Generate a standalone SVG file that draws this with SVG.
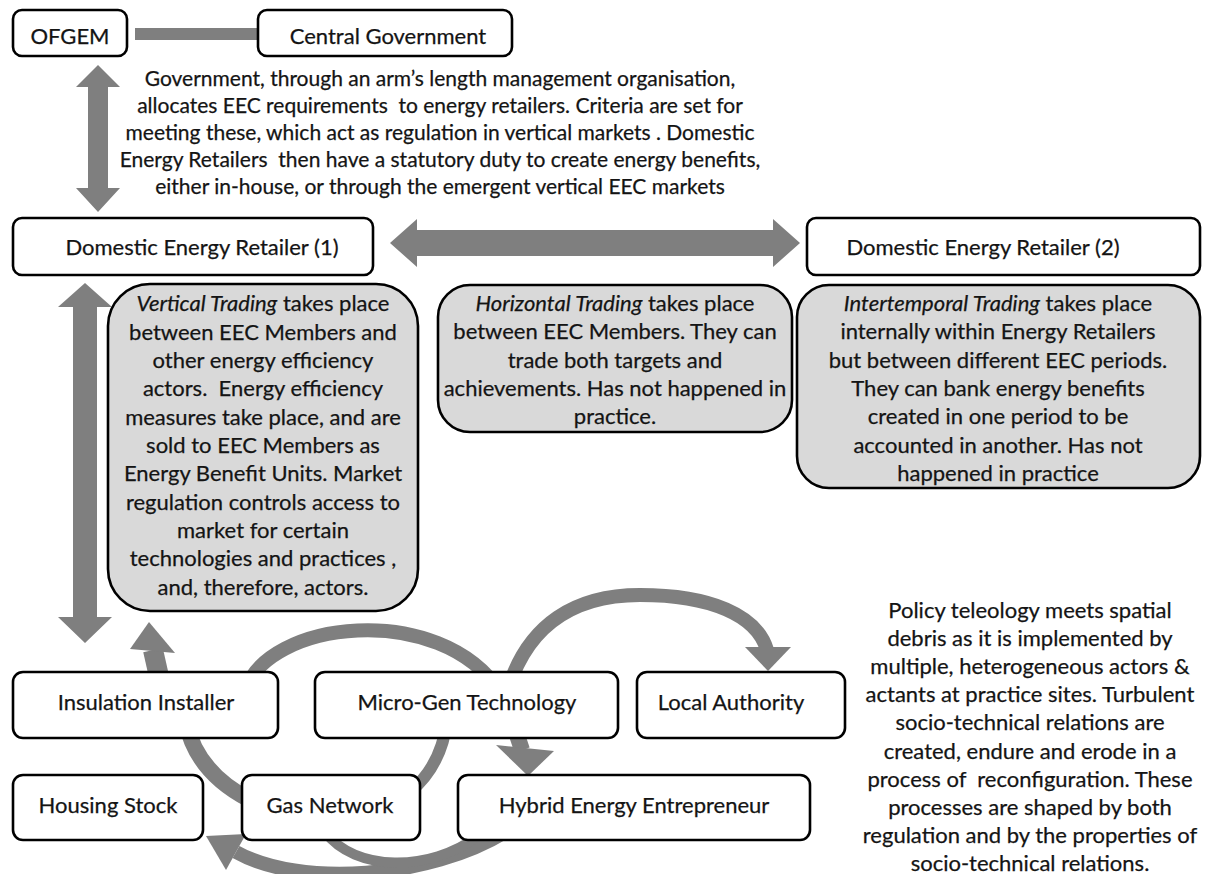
<svg xmlns="http://www.w3.org/2000/svg" width="1215" height="874" viewBox="0 0 1215 874">
<style>
.box{fill:#fff;stroke:#000;stroke-width:2.6}
.gbox{fill:#d9d9d9;stroke:#000;stroke-width:2.6}
.t{font-family:Lato,"Open Sans","Liberation Sans",sans-serif;font-size:22px;fill:#141414;stroke:#141414;stroke-width:0.25;text-anchor:middle}
.s{font-size:21px}
.i{font-style:italic}
.arr{fill:#7f7f7f}
.cv{fill:none;stroke:#7f7f7f}
</style>
<rect width="1215" height="874" fill="#fff"/>
<g id="connectors">
  <rect class="arr" x="135" y="28" width="125" height="12"/>
  <polygon class="arr" points="98,65 120,87 108,87 108,188 120,188 98,212 76,188 88,188 88,87 76,87"/>
  <polygon class="arr" points="390,243 417,219 417,230 773,230 773,219 800,243 773,267 773,256 417,256 417,267"/>
  <polygon class="arr" points="85,283 112,307 97,307 97,617 112,617 85,643 58,617 73,617 73,307 58,307"/>
  <path class="cv" stroke-width="16" d="M 186 722 Q 196 772 250 800"/>
  <path class="cv" stroke-width="20" d="M 162 690 L 153 650"/>
  <polygon class="arr" points="149,622 175,653 130,649"/>
  <path class="cv" stroke-width="14" d="M 245 692 C 265 620 440 600 500 692"/>
  <path class="cv" stroke-width="12" d="M 447 720 Q 442 765 410 792"/>
  <path class="cv" stroke-width="14" d="M 505 700 C 525 620 580 595 640 595 C 710 595 757 615 767 650"/>
  <polygon class="arr" points="745,647 791,647 768,671"/>
  <path class="cv" stroke-width="16" d="M 512 720 L 522 750"/>
  <polygon class="arr" points="496,745 554,751 528,776"/>
  <path class="cv" stroke-width="14" d="M 505 832 C 430 878 300 888 236 852"/>
  <polygon class="arr" points="206,836 246,834 226,870"/>
  <path class="cv" stroke-width="10" d="M 325 832 C 355 872 430 872 478 836"/>
</g>
<g id="ofgem"><rect class="box" x="13" y="10" width="114" height="46" rx="9"/><text class="t" x="70" y="44">OFGEM</text></g>
<g id="central-government"><rect class="box" x="258" y="10" width="254" height="46" rx="9"/><text class="t" x="388" y="44">Central Government</text></g>
<g id="note-top">
  <text class="t s" x="440" y="86">Government, through an arm’s length management organisation,</text>
  <text class="t s" x="440" y="113" xml:space="preserve">allocates EEC requirements  to energy retailers. Criteria are set for</text>
  <text class="t s" x="440" y="140">meeting these, which act as regulation in vertical markets . Domestic</text>
  <text class="t s" x="440" y="167" xml:space="preserve">Energy Retailers  then have a statutory duty to create energy benefits,</text>
  <text class="t s" x="440" y="194">either in-house, or through the emergent vertical EEC markets</text>
</g>
<g id="retailer-1"><rect class="box" x="13" y="218" width="360" height="57" rx="9"/><text class="t" x="202" y="255">Domestic Energy Retailer (1)</text></g>
<g id="retailer-2"><rect class="box" x="807" y="218" width="393" height="57" rx="9"/><text class="t" x="983" y="255">Domestic Energy Retailer (2)</text></g>
<g id="vertical-trading">
  <rect class="gbox" x="108" y="284" width="310" height="327" rx="42"/>
  <text class="t" x="263" y="311"><tspan class="i">Vertical Trading</tspan> takes place</text>
  <text class="t" x="263" y="340">between EEC Members and</text>
  <text class="t" x="263" y="368">other energy efficiency</text>
  <text class="t" x="263" y="396" xml:space="preserve">actors.  Energy efficiency</text>
  <text class="t" x="263" y="425">measures take place, and are</text>
  <text class="t" x="263" y="453">sold to EEC Members as</text>
  <text class="t" x="263" y="481">Energy Benefit Units. Market</text>
  <text class="t" x="263" y="510">regulation controls access to</text>
  <text class="t" x="263" y="538">market for certain</text>
  <text class="t" x="263" y="566">technologies and practices ,</text>
  <text class="t" x="263" y="595">and, therefore, actors.</text>
</g>
<g id="horizontal-trading">
  <rect class="gbox" x="438" y="285" width="354" height="147" rx="32"/>
  <text class="t" x="615" y="311"><tspan class="i">Horizontal Trading</tspan> takes place</text>
  <text class="t" x="615" y="339">between EEC Members. They can</text>
  <text class="t" x="615" y="368">trade both targets and</text>
  <text class="t" x="615" y="396">achievements. Has not happened in</text>
  <text class="t" x="615" y="424">practice.</text>
</g>
<g id="intertemporal-trading">
  <rect class="gbox" x="797" y="285" width="403" height="203" rx="32"/>
  <text class="t" x="998" y="311"><tspan class="i">Intertemporal Trading</tspan> takes place</text>
  <text class="t" x="998" y="339">internally within Energy Retailers</text>
  <text class="t" x="998" y="368">but between different EEC periods.</text>
  <text class="t" x="998" y="396">They can bank energy benefits</text>
  <text class="t" x="998" y="424">created in one period to be</text>
  <text class="t" x="998" y="453">accounted in another. Has not</text>
  <text class="t" x="998" y="481">happened in practice</text>
</g>
<g id="insulation-installer"><rect class="box" x="13" y="672" width="265" height="66" rx="10"/><text class="t" x="146" y="710">Insulation Installer</text></g>
<g id="micro-gen"><rect class="box" x="315" y="672" width="303" height="66" rx="10"/><text class="t" x="467" y="710">Micro-Gen Technology</text></g>
<g id="local-authority"><rect class="box" x="637" y="672" width="208" height="66" rx="10"/><text class="t" x="731" y="710">Local Authority</text></g>
<g id="housing-stock"><rect class="box" x="13" y="775" width="190" height="65" rx="10"/><text class="t" x="108" y="813">Housing Stock</text></g>
<g id="gas-network"><rect class="box" x="242" y="775" width="178" height="65" rx="10"/><text class="t" x="330" y="813">Gas Network</text></g>
<g id="hybrid-entrepreneur"><rect class="box" x="458" y="775" width="352" height="65" rx="10"/><text class="t" x="634" y="813">Hybrid Energy Entrepreneur</text></g>
<g id="note-policy">
  <text class="t" x="1030" y="618">Policy teleology meets spatial</text>
  <text class="t" x="1030" y="646">debris as it is implemented by</text>
  <text class="t" x="1030" y="674">multiple, heterogeneous actors &amp;</text>
  <text class="t" x="1030" y="702">actants at practice sites. Turbulent</text>
  <text class="t" x="1030" y="730">socio-technical relations are</text>
  <text class="t" x="1030" y="759">created, endure and erode in a</text>
  <text class="t" x="1030" y="787" xml:space="preserve">process of  reconfiguration. These</text>
  <text class="t" x="1030" y="815">processes are shaped by both</text>
  <text class="t" x="1030" y="843">regulation and by the properties of</text>
  <text class="t" x="1030" y="871">socio-technical relations.</text>
</g>
</svg>
